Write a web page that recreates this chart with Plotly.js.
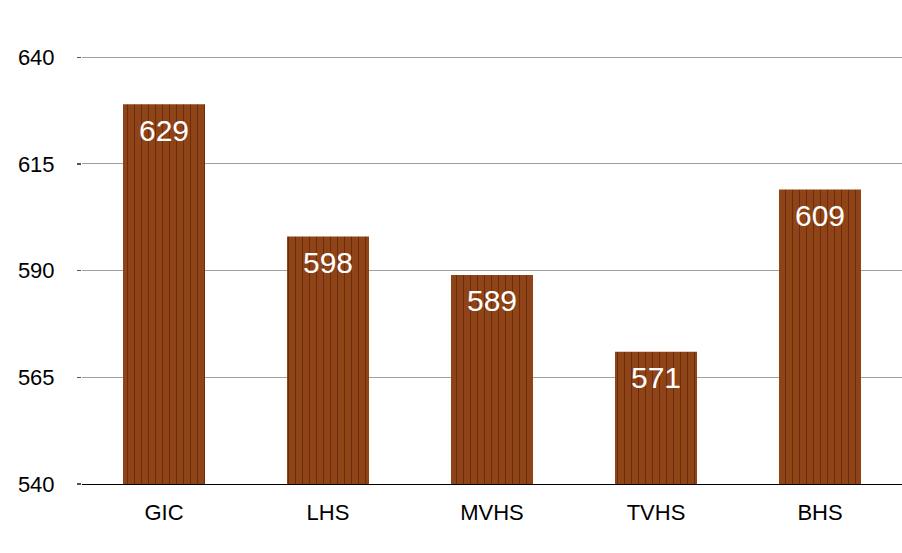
<!DOCTYPE html>
<html>
<head>
<meta charset="utf-8">
<script src="https://cdn.plot.ly/plotly-3.0.1.min.js"></script>
<style>html,body{margin:0;padding:0;background:#fff}#chart{width:902px;height:553px}</style>
</head>
<body>
<div id="chart"></div>
<script>
const categories = ["GIC", "LHS", "MVHS", "TVHS", "BHS"];
const scores = [629, 598, 589, 571, 609];
const yTicks = [540, 565, 590, 615, 640];

const trace = {
  type: "bar",
  x: categories,
  y: scores,
  base: 0,
  marker: {
    color: "#8a3f15",
    line: {width: 0},
    pattern: {shape: "|", fgcolor: "#6a2c0c", bgcolor: "#8f4417", size: 7, solidity: 0.15}
  },
  hoverinfo: "none"
};

const annotations = categories.map((c, i) => ({
  x: c, y: scores[i], xref: "x", yref: "y",
  text: String(scores[i]), showarrow: false,
  yshift: -26,
  font: {family: "Liberation Sans, Arial, sans-serif", size: 30, color: "#ffffff"}
}));

const layout = {
  width: 902, height: 553,
  margin: {l: 82, r: 0, t: 56, b: 69},
  paper_bgcolor: "#ffffff", plot_bgcolor: "#ffffff",
  bargap: 0.5,
  showlegend: false,
  font: {family: "Liberation Sans, Arial, sans-serif", size: 22, color: "#000"},
  xaxis: {
    type: "category",
    showgrid: false,
    showline: true, linecolor: "#000", linewidth: 1.2,
    ticks: "", ticklabelstandoff: 8,
    tickfont: {size: 22, color: "#000"}
  },
  yaxis: {
    range: [540, 640.3],
    tickvals: yTicks,
    ticktext: yTicks.map(String),
    showgrid: true, gridcolor: "#a0a0a0", gridwidth: 1,
    zeroline: false, showline: false,
    ticks: "outside", ticklen: 4, tickcolor: "#555", tickwidth: 1.2,
    ticklabelstandoff: 18,
    tickfont: {size: 22, color: "#000"}
  },
  annotations: annotations
};

Plotly.newPlot("chart", [trace], layout, {staticPlot: true, displayModeBar: false});
</script>
</body>
</html>
